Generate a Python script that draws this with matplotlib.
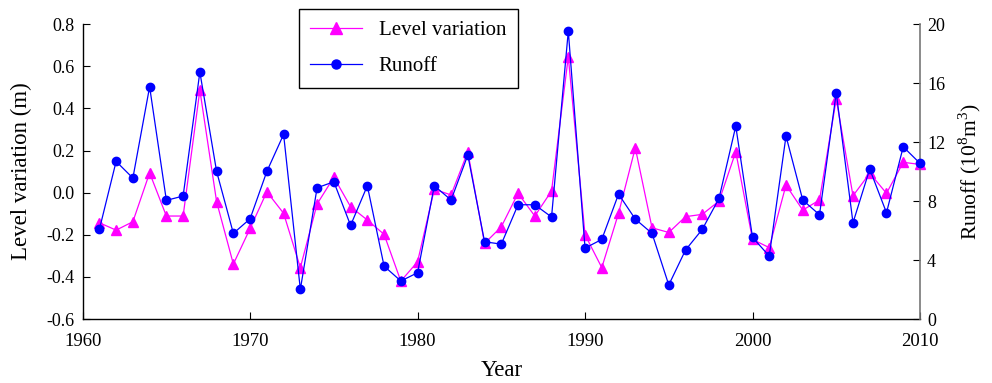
import matplotlib
matplotlib.use("Agg")
import matplotlib.pyplot as plt
from matplotlib.lines import Line2D

plt.rcParams['font.family'] = ['Liberation Serif', 'DejaVu Serif']
plt.rcParams['mathtext.fontset'] = 'custom'
plt.rcParams['mathtext.rm'] = 'Liberation Serif'

years = list(range(1961, 2011))
level = [-0.143, -0.178, -0.138, 0.094, -0.111, -0.111, 0.487, -0.043, -0.339, -0.170,
         0.004, -0.098, -0.356, -0.054, 0.073, -0.067, -0.130, -0.198, -0.420, -0.328,
         0.016, -0.011, 0.194, -0.241, -0.162, -0.003, -0.111, 0.008, 0.645, -0.200,
         -0.356, -0.098, 0.213, -0.167, -0.189, -0.114, -0.103, -0.040, 0.194, -0.222,
         -0.261, 0.036, -0.083, -0.035, 0.444, -0.015, 0.092, -0.003, 0.144, 0.134]
runoff = [6.08, 10.69, 9.56, 15.75, 8.05, 8.34, 16.75, 10.01, 5.81, 6.80,
          10.01, 12.52, 2.01, 8.90, 9.31, 6.35, 9.04, 3.59, 2.58, 3.14,
          9.04, 8.07, 11.12, 5.24, 5.08, 7.75, 7.75, 6.92, 19.53, 4.81,
          5.40, 8.47, 6.78, 5.81, 2.31, 4.68, 6.08, 8.18, 13.08, 5.54,
          4.27, 12.41, 8.07, 7.07, 15.34, 6.53, 10.17, 7.21, 11.68, 10.56]

x_ticks = [1960, 1970, 1980, 1990, 2000, 2010]
left_ticks = [-0.6, -0.4, -0.2, 0.0, 0.2, 0.4, 0.6, 0.8]
right_ticks = [0, 4, 8, 12, 16, 20]

pink = '#FF00FF'
blue = '#0000FF'

fig = plt.figure(figsize=(9.92, 3.83), dpi=100)
ax = fig.add_axes([0.0833, 0.167, 0.8441, 0.770])
ax2 = ax.twinx()

ax.plot(years, level, color=pink, lw=0.9, marker='^', ms=7.5, mec=pink, mfc=pink,
        clip_on=False, zorder=3)
ax2.plot(years, runoff, color=blue, lw=0.9, marker='o', ms=6, mec=blue, mfc=blue,
         clip_on=False, zorder=3)

ax.set_xlim(1960, 2010)
ax.set_ylim(-0.6, 0.8)
ax2.set_ylim(0, 20)
ax.set_xticks(x_ticks)
ax.set_xticklabels([str(v) for v in x_ticks])
ax.set_yticks(left_ticks)
ax.set_yticklabels(['%.1f' % v for v in left_ticks])
ax2.set_yticks(right_ticks)
ax2.set_yticklabels([str(v) for v in right_ticks])

for a in (ax, ax2):
    a.spines['top'].set_visible(False)
ax2.spines['left'].set_visible(False)
ax2.spines['bottom'].set_visible(False)
ax.spines['right'].set_visible(False)
ax2.spines['right'].set_color('#777777')
ax2.spines['right'].set_linewidth(1.2)
ax.spines['left'].set_linewidth(1.0)
ax.spines['bottom'].set_linewidth(1.0)

ax.tick_params(axis='y', direction='in', length=5, width=0.8, labelsize=13, pad=6)
ax.tick_params(axis='x', direction='in', length=5, width=0.8, labelsize=13.5, pad=10)
ax2.tick_params(axis='y', direction='in', length=5, width=0.8, labelsize=13, pad=5)

ax.set_xlabel('Year', fontsize=16.5, labelpad=7)
ax.set_ylabel('Level variation (m)', fontsize=16.5, labelpad=10)
ax2.set_ylabel('Runoff (10$^8$m$^3$)', fontsize=15.5, labelpad=8)

handles = [Line2D([], [], color=pink, lw=0.9, marker='^', ms=8.5, mfc=pink, mec=pink),
           Line2D([], [], color=blue, lw=0.9, marker='o', ms=6.5, mfc=blue, mec=blue)]
leg = fig.legend(handles, ['Level variation', 'Runoff'], loc='upper left',
                 bbox_to_anchor=(0.301, 0.977), borderaxespad=0, fontsize=15, frameon=True,
                 fancybox=False, edgecolor='black', framealpha=1, handlelength=2.5,
                 labelspacing=0.8, borderpad=0.55, handletextpad=0.8)
leg.get_frame().set_linewidth(1.0)

fig.savefig('out.png', dpi=100)
